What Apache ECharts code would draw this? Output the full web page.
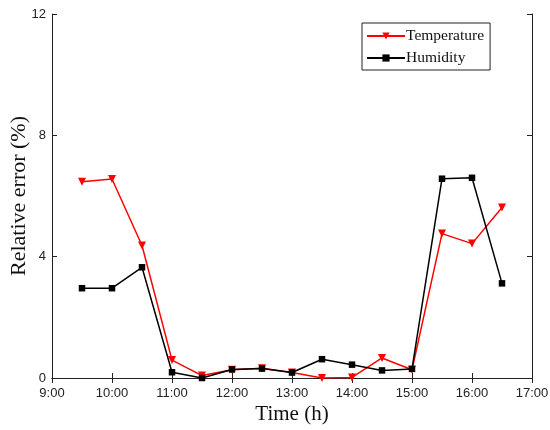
<!DOCTYPE html>
<html>
<head>
<meta charset="utf-8">
<script src="https://cdn.jsdelivr.net/npm/echarts@6/dist/echarts.min.js"></script>
<style>
  html, body { margin: 0; padding: 0; background: #fff; }
  #chart { width: 550px; height: 430px; }
</style>
</head>
<body>
<div id="chart"></div>
<script>
// 数据
const times = ['9:30', '10:00', '10:30', '11:00', '11:30', '12:00', '12:30', '13:00',
  '13:30', '14:00', '14:30', '15:00', '15:30', '16:00', '16:30']
const temperature = [6.47, 6.56, 4.37, 0.59, 0.08, 0.27, 0.32, 0.18,
  0.0, 0.02, 0.66, 0.27, 4.76, 4.43, 5.62]
const humidity = [2.96, 2.96, 3.65, 0.19, 0.0, 0.28, 0.31, 0.18,
  0.62, 0.44, 0.25, 0.3, 6.57, 6.6, 3.12]
const xTicks = [9, 10, 11, 12, 13, 14, 15, 16, 17]
const yTicks = [0, 4, 8, 12]

const toHour = (t) => {
  const [h, m] = t.split(':').map(Number)
  return h + m / 60
}

const chart = echarts.init(document.getElementById('chart'))

const tickFont = { fontFamily: 'Liberation Sans', fontSize: 13, color: '#222' }
const axisLine = { show: true, lineStyle: { color: '#222', width: 1 } }
const axisTick = { show: true, inside: true, length: 5, lineStyle: { color: '#222' } }

chart.setOption({
  backgroundColor: '#fff',
  animation: false,
  grid: { left: 52, right: 18, top: 14, bottom: 52, containLabel: false, outerBoundsMode: 'none' },
  legend: {
    left: 362,
    top: 23,
    orient: 'vertical',
    itemWidth: 38,
    itemHeight: 9,
    itemGap: 6,
    padding: [5, 6, 4, 4],
    borderColor: '#222',
    borderWidth: 1,
    backgroundColor: '#fff',
    textStyle: { fontFamily: 'Liberation Serif', fontSize: 15.5, color: '#111', padding: [0, 0, 0, -4] },
    data: ['Temperature', 'Humidity']
  },
  xAxis: [
    {
      type: 'value',
      min: xTicks[0],
      max: xTicks[xTicks.length - 1],
      interval: 1,
      name: 'Time (h)',
      nameLocation: 'middle',
      nameGap: 26,
      nameMoveOverlap: false,
      nameTextStyle: { fontFamily: 'Liberation Serif', fontSize: 21, color: '#111' },
      axisLine, axisTick,
      axisLabel: { ...tickFont, margin: 9, formatter: (v) => v + ':00' },
      splitLine: { show: false }
    },
    {
      type: 'value', position: 'top',
      min: xTicks[0], max: xTicks[xTicks.length - 1], interval: 1,
      axisLine, axisTick, axisLabel: { show: false }, splitLine: { show: false }
    }
  ],
  yAxis: [
    {
      type: 'value',
      min: yTicks[0],
      max: yTicks[yTicks.length - 1],
      interval: 4,
      name: 'Relative error (%)',
      nameLocation: 'middle',
      nameGap: 22,
      nameMoveOverlap: false,
      nameTextStyle: { fontFamily: 'Liberation Serif', fontSize: 22, color: '#111' },
      axisLine, axisTick,
      axisLabel: { ...tickFont, margin: 6 },
      splitLine: { show: false }
    },
    {
      type: 'value', position: 'right',
      min: yTicks[0], max: yTicks[yTicks.length - 1], interval: 4,
      axisLine, axisTick, axisLabel: { show: false }, splitLine: { show: false }
    }
  ],
  series: [
    {
      name: 'Temperature',
      type: 'line',
      data: times.map((t, i) => [toHour(t), temperature[i]]),
      symbol: 'triangle',
      symbolRotate: 180,
      symbolSize: 8,
      color: '#ff0000',
      lineStyle: { width: 1.5, color: '#ff0000' },
      itemStyle: { color: '#ff0000' }
    },
    {
      name: 'Humidity',
      type: 'line',
      data: times.map((t, i) => [toHour(t), humidity[i]]),
      symbol: 'rect',
      symbolSize: 6.5,
      color: '#000',
      lineStyle: { width: 1.5, color: '#000' },
      itemStyle: { color: '#000' }
    }
  ]
})

window.addEventListener('resize', () => chart.resize())
</script>
</body>
</html>
